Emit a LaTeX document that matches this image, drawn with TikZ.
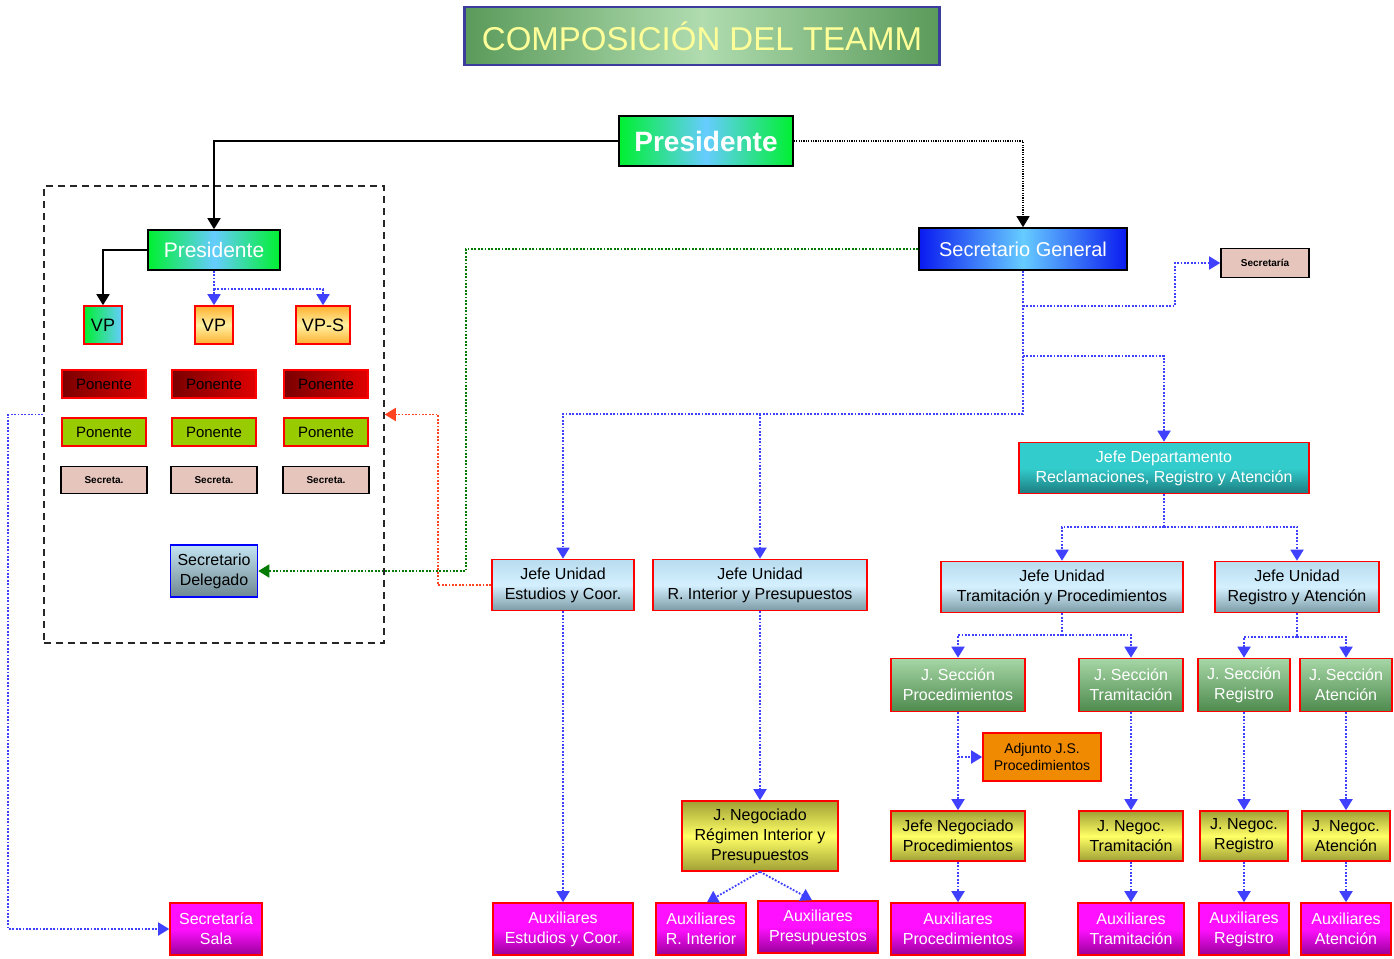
\documentclass[tikz,border=0pt]{standalone}
\usepackage{fontspec}
\setmainfont{Liberation Sans}
\usetikzlibrary{arrows.meta}
\definecolor{lineblue}{HTML}{4040FF}
\definecolor{linegreen}{HTML}{007A00}
\definecolor{linered}{HTML}{FF4422}
\definecolor{ttlgreen}{HTML}{5A9A5A}
\definecolor{ttllight}{HTML}{B0DCB0}
\definecolor{ttlborder}{HTML}{3C3C9C}
\definecolor{ttltext}{HTML}{FFFF99}
\definecolor{prgreen}{HTML}{00F030}
\definecolor{prblue}{HTML}{66CCFF}
\definecolor{sgblue}{HTML}{0A1AF0}
\definecolor{sglight}{HTML}{66CCFF}
\definecolor{beige}{HTML}{E6C6BC}
\definecolor{ponred}{HTML}{E00000}
\definecolor{pondark}{HTML}{7A0000}
\definecolor{pongreen}{HTML}{99CC00}
\definecolor{vporange}{HTML}{FFB030}
\definecolor{vplight}{HTML}{FFF0A0}
\definecolor{unittop}{HTML}{B8DCEE}
\definecolor{unitmid}{HTML}{D4F0FF}
\definecolor{unitbot}{HTML}{7C9AA6}
\definecolor{tealmid}{HTML}{33CCCC}
\definecolor{tealbot}{HTML}{1C7C80}
\definecolor{sectop}{HTML}{A6D6A6}
\definecolor{secbot}{HTML}{4E8A4E}
\definecolor{negmid}{HTML}{FFFF66}
\definecolor{negedge}{HTML}{A0A035}
\definecolor{magtop}{HTML}{FF10FF}
\definecolor{magbot}{HTML}{9A009A}
\definecolor{adjorange}{HTML}{F08A00}
\definecolor{sdtop}{HTML}{C4E4F2}
\definecolor{sdbot}{HTML}{6E8890}
\tikzset{
  base/.style={inner sep=1pt, align=center, line width=1.6pt, font=\fontsize{16}{20}\selectfont},
  redbox/.style={base, draw=red},
  unitbox/.style={redbox, top color=unittop, bottom color=unitbot, middle color=unitmid, text=black},
  secbox/.style={redbox, top color=sectop, bottom color=secbot, text=white},
  negbox/.style={redbox, top color=negedge, bottom color=negedge, middle color=negmid, text=black},
  auxbox/.style={redbox, top color=magtop, bottom color=magbot, middle color=magtop, text=white},
  ponA/.style={redbox, left color=pondark, right color=ponred, text=black, minimum width=84, minimum height=28, font=\fontsize{15}{18}\selectfont},
  ponB/.style={redbox, fill=pongreen, text=black, minimum width=84, minimum height=28, font=\fontsize{15}{18}\selectfont},
  secr/.style={base, draw=black, fill=beige, text=black, font=\bfseries\fontsize{10}{12}\selectfont},
  vpA/.style={redbox, left color=prgreen, right color=prblue, text=black, minimum height=38, font=\fontsize{18}{20}\selectfont},
  vpB/.style={redbox, top color=vporange, bottom color=vporange, middle color=vplight, text=black, minimum height=38, font=\fontsize{18}{20}\selectfont},
  pres/.style={base, draw=black, left color=prgreen, right color=prgreen, middle color=prblue, text=white},
  tip/.style={-{Triangle[width=13pt,length=11pt]}},
  bdot/.style={draw=lineblue, line width=1.8pt, dash pattern=on 1.8pt off 1.6pt, tip},
  bdotn/.style={draw=lineblue, line width=1.8pt, dash pattern=on 1.8pt off 1.6pt},
  gdot/.style={draw=linegreen, line width=1.8pt, dash pattern=on 1.8pt off 1.6pt, tip},
  rdot/.style={draw=linered, line width=1.8pt, dash pattern=on 1.8pt off 1.6pt, tip},
  ksolid/.style={draw=black, line width=1.8pt, tip},
  kdot/.style={draw=black, line width=1.2pt, dash pattern=on 1.2pt off 1.2pt, tip},
}
\begin{document}
\begin{tikzpicture}[x=1pt,y=-1pt]
\useasboundingbox[fill=white] (0,0) rectangle (1394,958);
% title
\node[base, draw=ttlborder, line width=2.5pt, left color=ttlgreen, right color=ttlgreen, middle color=ttllight, text=ttltext, minimum width=475, minimum height=58, font=\fontsize{33}{36}\selectfont] (T) at (702,36) {COMPOSICIÓN DEL TEAMM};
% presidents
\node[pres, minimum width=174, minimum height=50, font=\bfseries\fontsize{28}{30}\selectfont] (P) at (706,141) {Presidente};
\node[draw=black!85, line width=1.5pt, dash pattern=on 7pt off 5pt, minimum width=340, minimum height=457, inner sep=0pt] (grp) at (214,414.5) {};
\node[pres, minimum width=132, minimum height=40, font=\fontsize{21}{24}\selectfont] (P2) at (214,250) {Presidente};
\node[vpA, minimum width=38] (VP1) at (103,325) {VP};
\node[vpB, minimum width=38] (VP2) at (214,325) {VP};
\node[vpB, minimum width=54] (VPS) at (323,325) {VP-S};
\node[ponA] (PA1) at (104,384) {Ponente};
\node[ponA] (PA2) at (214,384) {Ponente};
\node[ponA] (PA3) at (326,384) {Ponente};
\node[ponB] (PB1) at (104,432) {Ponente};
\node[ponB] (PB2) at (214,432) {Ponente};
\node[ponB] (PB3) at (326,432) {Ponente};
\node[secr, minimum width=86, minimum height=27] (S1) at (104,480) {Secreta.};
\node[secr, minimum width=86, minimum height=27] (S2) at (214,480) {Secreta.};
\node[secr, minimum width=86, minimum height=27] (S3) at (326,480) {Secreta.};
\node[base, draw=blue, top color=sdtop, bottom color=sdbot, text=black, minimum width=87, minimum height=52] (SD) at (214,571) {Secretario\\Delegado};
% secretario general
\node[base, draw=black, left color=sgblue, right color=sgblue, middle color=sglight, text=white, minimum width=208, minimum height=42, font=\fontsize{20}{24}\selectfont] (SG) at (1023,249) {Secretario General};
\node[secr, minimum width=88, minimum height=29] (SEC) at (1265,263) {Secretaría};
\node[redbox, top color=tealmid, bottom color=tealbot, middle color=tealmid, text=white, minimum width=290, minimum height=51] (JD) at (1164,468) {Jefe Departamento\\Reclamaciones, Registro y Atención};
% units
\node[unitbox, minimum width=142, minimum height=51] (JE) at (563,585) {Jefe Unidad\\Estudios y Coor.};
\node[unitbox, minimum width=214, minimum height=51] (JR) at (760,585) {Jefe Unidad\\R. Interior y Presupuestos};
\node[unitbox, minimum width=242, minimum height=51] (JT) at (1062,587) {Jefe Unidad\\Tramitación y Procedimientos};
\node[unitbox, minimum width=164, minimum height=51] (JRA) at (1297,587) {Jefe Unidad\\Registro y Atención};
% sections
\node[secbox, minimum width=134, minimum height=53] (SP) at (958,685) {J. Sección\\Procedimientos};
\node[secbox, minimum width=104, minimum height=53] (ST) at (1131,685) {J. Sección\\Tramitación};
\node[secbox, minimum width=92, minimum height=53] (SR) at (1244,685) {J. Sección\\Registro};
\node[secbox, minimum width=92, minimum height=53] (SA) at (1346,685) {J. Sección\\Atención};
\node[redbox, fill=adjorange, text=black, minimum width=118, minimum height=48, font=\fontsize{14}{17}\selectfont] (ADJ) at (1042,757) {Adjunto J.S.\\Procedimientos};
% negociados
\node[negbox, minimum width=156, minimum height=70] (NR) at (760,836) {J. Negociado\\Régimen Interior y\\Presupuestos};
\node[negbox, minimum width=134, minimum height=50] (NP) at (958,836) {Jefe Negociado\\Procedimientos};
\node[negbox, minimum width=104, minimum height=50] (NT) at (1131,836) {J. Negoc.\\Tramitación};
\node[negbox, minimum width=88, minimum height=50] (NRg) at (1244,836) {J. Negoc.\\Registro};
\node[negbox, minimum width=88, minimum height=50] (NA) at (1346,836) {J. Negoc.\\Atención};
% auxiliares
\node[auxbox, minimum width=92, minimum height=52] (SS) at (216,929) {Secretaría\\Sala};
\node[auxbox, minimum width=140, minimum height=52] (AE) at (563,929) {Auxiliares\\Estudios y Coor.};
\node[auxbox, minimum width=90, minimum height=52] (AR) at (701,929) {Auxiliares\\R. Interior};
\node[auxbox, minimum width=120, minimum height=52] (AP) at (818,927) {Auxiliares\\Presupuestos};
\node[auxbox, minimum width=134, minimum height=52] (APr) at (958,929) {Auxiliares\\Procedimientos};
\node[auxbox, minimum width=106, minimum height=52] (AT) at (1131,929) {Auxiliares\\Tramitación};
\node[auxbox, minimum width=90, minimum height=52] (ARg) at (1244,929) {Auxiliares\\Registro};
\node[auxbox, minimum width=90, minimum height=52] (AA) at (1346,929) {Auxiliares\\Atención};
% junction coordinates
\coordinate (j1) at (214,289);
\coordinate (g1) at (466,400);
\coordinate (r1) at (438,500);
\coordinate (l1) at (8,600);
\coordinate (s1) at (1023,306);
\coordinate (s2) at (1023,356);
\coordinate (s3) at (1023,414);
\coordinate (s4) at (760,414);
\coordinate (s5) at (1175,285);
\coordinate (d1) at (1164,527);
\coordinate (t1) at (1062,635);
\coordinate (r2) at (1297,637);
\coordinate (a1) at (958,757);
% connectors
\draw[ksolid] (P.west) -| (P2.north);
\draw[kdot] (P.east) -| (SG.north);
\draw[ksolid] (P2.west) -| (VP1.north);
\draw[bdotn] (P2.south) -- (j1);
\draw[bdot] (j1) -- (VP2.north);
\draw[bdot] (j1) -| (VPS.north);
\draw[gdot] (SG.west) -| (g1) |- (SD.east);
\draw[rdot] (JE.west) -| (r1) |- (grp.east);
\draw[bdot] (grp.west) -| (l1) |- (SS.west);
\draw[bdotn] (SG.south) -- (s3);
\draw[bdot] (s3) -| (JE.north);
\draw[bdot] (s4) -- (JR.north);
\draw[bdot] (s1) -| (s5) |- (SEC.west);
\draw[bdot] (s2) -| (JD.north);
\draw[bdotn] (JD.south) -- (d1);
\draw[bdot] (d1) -| (JT.north);
\draw[bdot] (d1) -| (JRA.north);
\draw[bdotn] (JT.south) -- (t1);
\draw[bdot] (t1) -| (SP.north);
\draw[bdot] (t1) -| (ST.north);
\draw[bdotn] (JRA.south) -- (r2);
\draw[bdot] (r2) -| (SR.north);
\draw[bdot] (r2) -| (SA.north);
\draw[bdot] (SP.south) -- (NP.north);
\draw[bdot] (a1) -- (ADJ.west);
\draw[bdot] (ST.south) -- (NT.north);
\draw[bdot] (SR.south) -- (NRg.north);
\draw[bdot] (SA.south) -- (NA.north);
\draw[bdot] (JR.south) -- (NR.north);
\draw[bdot] (JE.south) -- (AE.north);
\draw[bdot] (NR.south) -- ([xshift=6pt]AR.north);
\draw[bdot] (NR.south) -- ([xshift=-6pt]AP.north);
\draw[bdot] (NP.south) -- (APr.north);
\draw[bdot] (NT.south) -- (AT.north);
\draw[bdot] (NRg.south) -- (ARg.north);
\draw[bdot] (NA.south) -- (AA.north);
\end{tikzpicture}
\end{document}
